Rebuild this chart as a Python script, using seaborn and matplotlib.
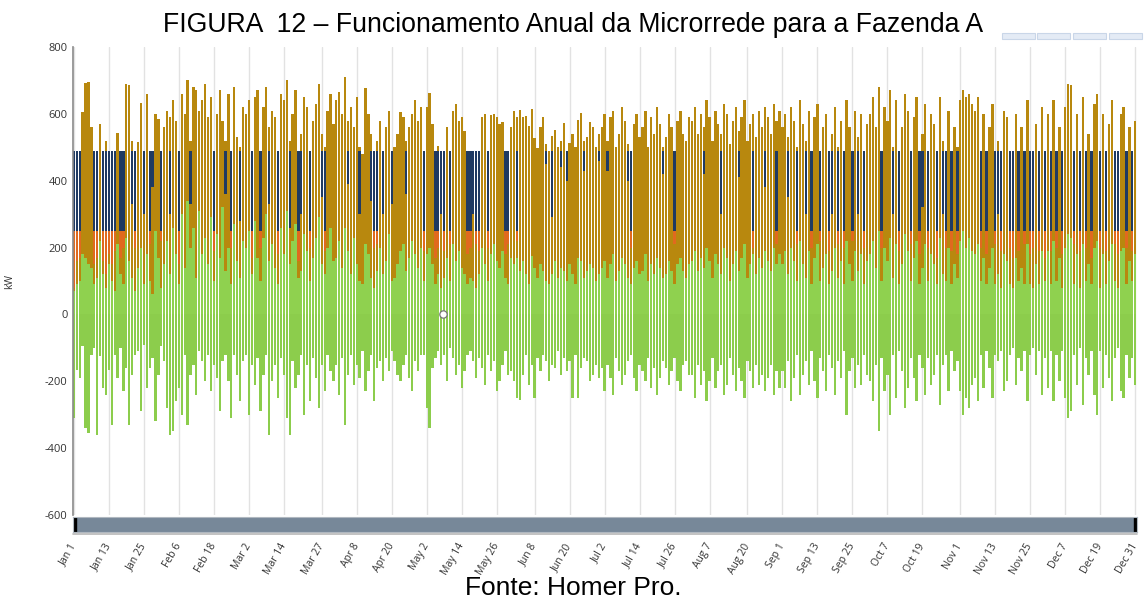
import numpy as np
import matplotlib
matplotlib.use("Agg")
import matplotlib.pyplot as plt
import seaborn as sns
from matplotlib.patches import Rectangle

# ---------------- data (daily values, kW) ----------------
# top of the gold (total) bar per day
peak_kw = [
    480,470,490,605,692,695,560,480,470,570,490,520,485,480,450,543,490,480,688,686,520,490,515,631,480,660,470,490,600,586,470,  # Jan
    560,610,590,640,580,470,660,600,700,520,680,670,610,640,690,590,650,480,600,670,580,520,660,470,680,530,500,620,  # Feb
    600,640,480,650,670,490,620,680,560,610,590,470,660,640,700,520,600,670,480,540,650,620,470,580,630,690,540,500,610,660,570,  # Mar
    640,665,600,710,580,620,560,650,500,480,678,600,540,470,520,580,490,560,610,480,500,540,605,590,520,560,600,640,580,620,  # Apr
    480,620,661,571,490,505,480,470,560,490,610,630,580,590,550,490,480,470,480,470,590,600,490,596,600,590,570,577,490,480,560,  # May
    610,590,613,590,595,565,615,527,497,560,590,511,490,535,553,500,520,574,490,514,540,500,583,604,520,530,575,561,500,540,  # Jun
    560,600,520,590,610,500,540,620,580,510,490,570,600,530,560,610,500,590,540,620,570,500,530,600,560,490,580,610,540,520,590,  # Jul
    580,620,540,600,560,640,590,520,610,570,540,630,600,510,580,620,550,590,640,520,570,600,530,610,560,620,590,540,630,580,610,  # Aug
    560,600,530,620,580,500,640,570,520,610,480,590,630,490,560,600,470,540,620,500,580,480,640,560,490,610,530,600,470,570,  # Sep
    600,650,560,680,490,620,580,670,500,640,480,560,660,610,490,590,650,480,540,630,490,600,570,480,650,520,490,610,480,560,500,  # Oct
    640,670,650,660,630,610,650,490,600,480,560,630,490,520,480,610,590,480,470,600,490,560,480,640,480,490,570,480,620,490,  # Nov
    600,480,640,490,560,480,620,690,685,490,600,480,650,490,540,480,630,660,490,600,480,570,640,490,480,600,620,480,560,490,580,  # Dec
]

# lower edge of the generator (blue) band; 0 = generator off
gen_low_kw = [
    250,250,250,0,0,0,0,250,250,0,250,250,250,250,250,0,250,250,0,0,330,250,0,0,300,0,250,380,0,0,250,
    0,0,300,0,0,250,0,0,0,330,0,0,0,0,0,0,0,250,0,0,0,360,0,250,0,0,280,0,
    0,0,250,0,0,250,0,0,330,0,0,250,0,0,0,260,0,0,250,300,0,0,250,0,0,0,350,250,0,0,0,
    0,0,0,0,390,0,0,0,300,0,0,0,340,250,250,0,300,0,0,330,0,0,0,0,360,0,0,0,0,0,
    250,0,0,0,250,250,300,250,0,250,0,0,0,0,0,250,250,300,250,250,0,0,250,0,0,0,0,0,250,250,0,
    0,250,0,0,0,0,0,0,0,0,0,450,0,290,0,0,440,0,400,0,0,0,0,0,430,0,0,0,0,460,
    0,0,430,0,0,0,0,0,0,400,250,0,0,0,0,0,0,0,0,0,0,420,0,0,0,250,0,0,0,0,0,
    0,0,0,0,420,0,0,0,0,0,300,0,0,0,0,0,410,0,0,0,0,250,0,0,0,380,0,0,0,250,0,
    0,0,350,0,0,250,0,0,300,0,250,0,0,250,0,0,250,300,0,250,0,250,0,0,250,0,300,0,250,0,
    0,0,0,0,250,0,0,0,300,0,250,0,0,0,250,0,0,250,320,0,250,0,0,250,0,300,250,0,250,0,250,
    0,0,0,0,0,0,0,250,0,250,0,0,250,300,250,0,0,250,250,0,250,0,250,0,250,250,0,250,0,250,
    0,250,0,250,0,250,0,0,0,250,0,250,0,250,0,250,0,0,250,0,250,0,0,250,250,0,0,250,0,250,0,
]

# lower edge of the orange band (top is 250 kW); 0 = none
orange_low_kw = [
    80,160,170,0,0,0,0,150,170,0,160,120,180,150,190,0,170,200,0,0,0,200,0,0,0,0,210,0,0,0,220,
    0,0,0,0,0,150,0,0,0,0,0,0,0,0,0,0,0,190,0,0,0,0,0,200,0,0,0,0,
    0,0,170,0,0,200,0,0,0,0,0,180,0,0,0,0,0,0,160,0,0,0,200,0,0,0,0,190,0,0,0,
    0,0,0,0,0,0,0,0,0,0,0,0,0,200,210,0,0,0,0,0,0,0,0,0,0,0,0,0,0,0,
    190,0,0,0,170,200,0,190,0,210,0,0,0,0,0,180,200,0,210,190,0,0,200,0,0,0,0,0,180,210,0,
    0,220,0,0,0,0,0,0,0,0,0,0,0,0,0,0,0,0,0,0,0,0,0,0,0,0,0,0,0,0,
    0,0,0,0,0,0,0,0,0,0,200,0,0,0,0,0,0,0,0,0,0,0,0,0,0,210,0,0,0,0,0,
    0,0,0,0,0,0,0,0,0,0,0,0,0,0,0,0,0,0,0,0,0,200,0,0,0,0,0,0,0,210,0,
    0,0,0,0,0,210,0,0,0,0,200,0,0,220,0,0,190,0,0,210,0,200,0,0,220,0,0,0,200,0,
    0,0,0,0,200,0,0,0,0,0,190,0,0,0,210,0,0,180,0,0,200,0,0,170,0,0,200,0,190,0,180,
    0,0,0,0,0,0,0,200,0,180,0,0,210,0,190,0,0,200,170,0,190,0,210,0,180,200,0,190,0,170,
    0,190,0,200,0,180,0,0,0,210,0,190,0,200,0,170,0,0,200,0,190,0,0,210,180,0,0,200,0,190,0,
]

# green (PV / positive part)
green_pos_kw = [
    70,90,100,180,170,150,140,90,110,220,120,80,150,100,70,210,120,90,230,160,110,70,140,200,90,180,100,60,250,170,80,
    150,220,120,260,180,90,300,140,340,200,260,110,310,180,230,150,290,100,240,170,320,130,200,90,270,160,110,220,
    200,250,120,280,170,100,230,300,160,210,140,90,260,180,310,150,220,270,110,130,240,190,100,170,230,290,150,120,200,260,160,
    170,220,140,260,190,120,230,150,100,90,210,180,110,80,130,200,120,160,240,100,110,150,190,210,130,170,220,180,140,200,
    100,180,200,150,90,120,80,110,170,100,210,160,190,140,120,90,110,100,80,120,200,150,100,180,210,160,140,190,110,90,170,
    150,170,130,160,120,90,175,140,110,150,130,100,90,120,160,110,140,130,100,150,120,90,170,160,110,130,150,140,100,120,
    140,160,110,150,180,100,130,170,150,110,90,140,160,120,130,180,100,150,120,170,140,110,120,160,130,90,150,170,130,110,150,
    160,190,130,170,140,200,160,110,180,150,120,200,170,100,150,190,130,170,210,110,150,180,120,170,140,190,160,130,200,150,180,
    150,190,120,200,160,100,220,150,110,190,90,170,210,100,140,180,90,130,200,110,160,90,220,150,100,190,130,180,90,160,
    180,220,140,250,100,200,160,230,110,210,90,150,240,190,100,170,220,90,140,210,100,180,150,90,230,120,100,200,90,150,110,
    220,250,200,230,190,180,210,100,170,90,140,200,90,120,80,180,160,90,80,170,100,140,90,210,90,80,150,90,190,100,
    190,90,220,100,170,80,200,240,230,90,180,80,210,100,150,90,200,220,80,180,90,160,210,100,80,190,200,90,160,100,180,
]

# green (negative part, shown below zero)
green_neg_kw = [
    310,165,190,95,340,355,120,100,360,125,220,240,165,330,120,190,100,230,160,330,180,120,110,290,90,220,160,130,320,180,95,
    140,280,360,350,260,220,300,120,330,180,150,240,110,140,200,120,230,150,190,290,140,120,200,310,120,180,260,140,
    120,300,150,210,130,290,180,120,360,200,150,250,130,180,310,360,140,220,180,120,300,150,260,130,190,280,150,230,120,170,200,
    150,240,130,330,180,120,210,150,190,110,230,170,120,260,160,140,200,130,170,110,140,180,200,150,120,190,230,140,170,120,
    120,280,340,160,130,110,150,120,200,100,130,180,150,220,170,120,110,140,190,130,160,210,120,170,140,230,200,150,110,180,170,
    200,250,255,180,120,210,150,250,130,170,120,140,200,150,160,110,180,130,170,140,250,120,250,160,130,140,200,180,150,190,
    160,230,150,190,240,130,170,210,180,140,120,190,230,150,170,200,130,220,160,240,190,140,160,210,170,130,200,230,150,140,180,
    180,250,150,210,170,260,200,130,220,170,150,240,210,130,180,230,160,200,250,140,170,220,150,210,180,230,190,150,240,170,220,
    170,220,140,260,190,120,240,180,140,210,110,200,250,130,170,230,120,160,240,140,190,110,300,170,130,220,150,210,120,180,
    200,260,150,350,130,230,180,300,120,250,110,170,280,220,130,190,260,120,160,240,130,210,180,120,270,150,120,230,110,170,140,
    230,300,250,280,210,190,260,120,220,110,160,250,120,140,110,230,200,120,100,210,130,170,110,260,120,100,180,110,240,130,
    220,110,260,120,200,110,250,310,290,120,210,100,270,130,180,110,240,300,110,220,120,190,260,130,100,230,250,120,190,130,210,
]

GEN_TOP_KW = 490
ORANGE_TOP_KW = 250

tick_days = [0, 12, 24, 36, 48, 60, 72, 85, 97, 109, 121, 133, 145, 158, 170, 182,
             194, 206, 218, 231, 243, 255, 267, 279, 291, 304, 316, 328, 340, 352, 364]
tick_labels = ["Jan 1", "Jan 13", "Jan 25", "Feb 6", "Feb 18", "Mar 2", "Mar 14", "Mar 27",
               "Apr 8", "Apr 20", "May 2", "May 14", "May 26", "Jun 8", "Jun 20", "Jul 2",
               "Jul 14", "Jul 26", "Aug 7", "Aug 20", "Sep 1", "Sep 13", "Sep 25", "Oct 7",
               "Oct 19", "Nov 1", "Nov 13", "Nov 25", "Dec 7", "Dec 19", "Dec 31"]
y_ticks = [-600, -400, -200, 0, 200, 400, 600, 800]
hover_point = (126.6, 0)

# ---------------- figure ----------------
sns.set_theme(style="white")
plt.rcParams["font.family"] = ["Liberation Sans", "DejaVu Sans"]

W, H = 1144, 603
fig = plt.figure(figsize=(W / 100, H / 100), dpi=100)
fig.patch.set_facecolor("white")
ax = fig.add_axes([73 / W, 1 - 515 / H, 1064 / W, 468 / H])

peak = np.array(peak_kw, float)
gen = np.array(gen_low_kw, float)
org = np.array(orange_low_kw, float)
gpos = np.array(green_pos_kw, float)
gneg = np.array(green_neg_kw, float)
days = np.arange(len(peak))

GOLD = "#b8880e"
BLUE = "#1f3a62"
ORANGE = "#e06a1e"
GREEN = "#8fd14f"
GREEN_N = "#8ccd4c"

layers = [
    (peak, GOLD),
    (np.where(gen > 0, GEN_TOP_KW, 0), BLUE),
    (gen, GOLD),
    (np.where(org > 0, ORANGE_TOP_KW, 0), ORANGE),
    (org, GOLD),
    (gpos, GREEN),
    (-gneg, GREEN_N),
]
for vals, col in layers:
    sns.barplot(x=days, y=vals, native_scale=True, color=col, saturation=1,
                width=0.78, errorbar=None, linewidth=0, ax=ax)

ax.scatter([hover_point[0]], [hover_point[1]], s=28, facecolor="white",
           edgecolor="#777777", linewidth=0.9, zorder=5)

ax.set_xlim(-0.3, 364.6)
ax.set_ylim(-600, 800)
ax.set_yticks(y_ticks)
ax.set_yticklabels([str(v) for v in y_ticks], fontsize=8, color="#333333",
                   family=["Open Sans", "DejaVu Sans"])
ax.set_xticks(tick_days)
ax.set_xticklabels(tick_labels, rotation=60, ha="right", va="center",
                   rotation_mode="anchor", fontsize=7.5, color="#333333",
                   family=["Open Sans", "DejaVu Sans"])
ax.tick_params(axis="x", length=0, pad=21)
ax.tick_params(axis="y", length=0, pad=4)
ax.grid(axis="x", color="#e2e2e2", linewidth=1)
ax.grid(axis="y", visible=False)
ax.set_axisbelow(True)
for s in ["top", "right", "bottom"]:
    ax.spines[s].set_visible(False)
ax.spines["left"].set_color("#8a8a8a")
ax.spines["left"].set_linewidth(1.2)
ax.set_xlabel("")
ax.set_ylabel("kW", fontsize=7.5, color="#333333", family=["Open Sans", "DejaVu Sans"])
ax.yaxis.set_label_coords(-58 / 1064, 0.5)

# navigator bar
nav = fig.add_axes([73 / W, 1 - 532 / H, 1064 / W, 15 / H])
nav.set_facecolor("#778899")
nav.set_xticks([])
nav.set_yticks([])
for s in nav.spines.values():
    s.set_color("#b0b8c0")
    s.set_linewidth(0.8)
nav.add_patch(Rectangle((0, 0), 3 / 1064, 1, transform=nav.transAxes, color="black"))
nav.add_patch(Rectangle((1 - 3 / 1064, 0), 3 / 1064, 1, transform=nav.transAxes, color="black"))
fig.add_artist(plt.Line2D([73 / W, 1137 / W], [1 - 534 / H, 1 - 534 / H],
                          color="#b8b8b8", linewidth=1.2))

# partially visible buttons top right
for x0 in [1002, 1037, 1073, 1109]:
    fig.add_artist(Rectangle((x0 / W, 1 - 39 / H), 33 / W, 6 / H,
                             facecolor="#e4ebf5", edgecolor="#c9d6e8", linewidth=0.8))

fig.text(573 / W, 1 - 25 / H, "FIGURA  12 \u2013 Funcionamento Anual da Microrrede para a Fazenda A",
         ha="center", va="center", fontsize=19.2, color="black")
fig.text(573 / W, 1 - 588 / H, "Fonte: Homer Pro.", ha="center", va="center",
         fontsize=19, color="black")

fig.savefig("out.png", dpi=100)
